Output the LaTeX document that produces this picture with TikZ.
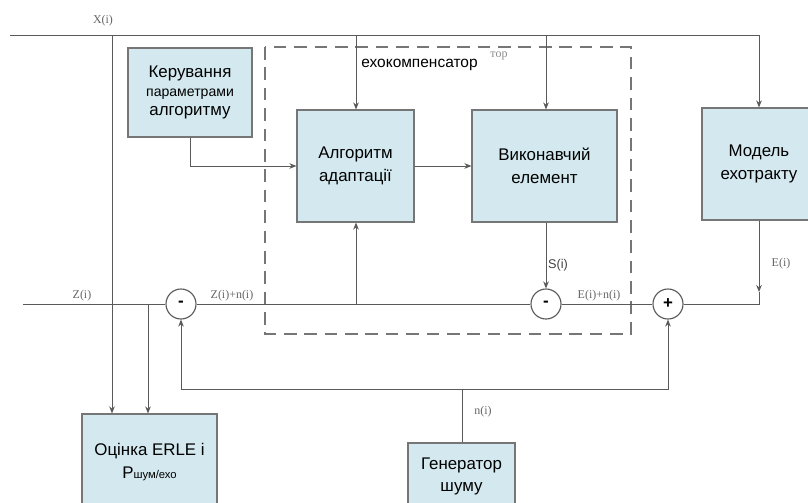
\documentclass[tikz,border=0pt]{standalone}
\usepackage{fontspec}
\setmainfont{Liberation Sans}
\newfontfamily\lblfont{Liberation Serif}
\definecolor{boxfill}{HTML}{D3E9EF}
\definecolor{boxline}{HTML}{767676}
\definecolor{wirecol}{HTML}{5A5A5A}
\usetikzlibrary{arrows.meta,positioning}

\begin{document}
\begin{tikzpicture}[x=0.025cm, y=-0.025cm,
  box/.style={rectangle, draw=boxline, fill=boxfill, line width=0.8pt,
    align=center, inner sep=1pt, font=\fontsize{12}{16}\selectfont},
  sum/.style={circle, draw=wirecol, line width=0.8pt, minimum size=0.75cm,
    inner sep=0pt, font=\bfseries\fontsize{12}{12}\selectfont},
  arr/.style={-{Stealth[length=5pt,width=4pt]}, draw=wirecol, line width=0.7pt},
  link/.style={draw=wirecol, line width=0.7pt},
  lbl/.style={text=black!60, font=\lblfont\fontsize{8.5}{9}\selectfont, inner sep=1pt}
]
  \useasboundingbox[fill=white] (0,0) rectangle (808,502);

  \draw[boxline, line width=1.1pt, dash pattern=on 9pt off 5.5pt] (265,47) rectangle (631,334);

  \node[box, minimum width=3.1cm, minimum height=2.225cm,
    font=\fontsize{12}{13.5}\selectfont] (ctrl) at (190,92.5)
    {Керування\\{\fontsize{10}{12}\selectfont параметрами}\\алгоритму};
  \node[box, minimum width=2.925cm, minimum height=2.8cm] (algo) at (355.5,166) {Алгоритм\\адаптації};
  \node[box, minimum width=3.625cm, minimum height=2.8cm] (exec) at (544.5,166) {Виконавчий\\елемент};
  \node[box, minimum width=2.85cm, minimum height=2.8cm] (model) at (759,164) {Модель\\ехотракту};
  \node[box, minimum width=3.375cm, minimum height=2.4cm, font=\fontsize{12}{17}\selectfont]
    (est) at (149.5,462) {Оцінка ERLE і\\P{\fontsize{8}{8}\selectfont шум/ехо}};
  \node[box, minimum width=2.675cm, minimum height=1.675cm] (gen) at (461.5,476.5) {Генератор\\шуму};

  \node[fill=white, inner sep=2pt, font=\fontsize{11}{12}\selectfont] (comp) at (419.5,65) {ехокомпенсатор};
  \node[text=black!45, font=\lblfont\fontsize{8.5}{9}\selectfont] (ghost) at (499,56) {тор};

  \node[sum] (minus1) at (181,304) {-};
  \node[sum] (minus2) at (546,304) {-};
  \node[sum] (plus) at (668,304) {+};

  \coordinate (xin) at (10,35);
  \coordinate (xa) at (112,35);
  \coordinate (xb) at (356,35);
  \coordinate (xc) at (546,35);
  \coordinate (xr) at (759,35);
  \coordinate (zin) at (23,304);
  \coordinate (zb) at (148,304);
  \coordinate (za) at (356,304);
  \coordinate (fb) at (462,389);
  \coordinate (emid) at (759,292);

  \draw[link] (xin) -- (xr);
  \draw[arr] (xr) -- (model.north);
  \draw[arr] (xa) -- (xa |- est.north);
  \draw[arr] (xb) -- (xb |- algo.north);
  \draw[arr] (xc) -- (xc |- exec.north);

  \draw[arr] (ctrl.south) |- (algo.west);
  \draw[arr] (algo) -- (exec);
  \draw[arr] (exec.south -| minus2) -- (minus2.north);

  \draw[arr] (model.south -| emid) -- (emid);
  \draw[link] (emid) |- (plus.east);

  \draw[link] (zin) -- (minus1.west);
  \draw[link] (minus1.east) -- (minus2.west);
  \draw[link] (minus2.east) -- (plus.west);
  \draw[arr] (zb) -- (zb |- est.north);
  \draw[arr] (za) -- (za |- algo.south);

  \draw[link] (gen.north -| fb) -- (fb);
  \draw[arr] (fb) -| (minus1.south);
  \draw[arr] (fb) -| (plus.south);

  \node[lbl] (lx) at (103,21) {X(i)};
  \node[lbl, anchor=south] (lz) at (82,303) {Z(i)};
  \node[lbl, anchor=south] (lzn) at (232,303) {Z(i)+n(i)};
  \node[lbl, anchor=south] (len) at (599,303) {E(i)+n(i)};
  \node[lbl, text=black!75, font=\fontsize{9}{9}\selectfont] (ls) at (558,265) {S(i)};
  \node[lbl] (le) at (781,264) {E(i)};
  \node[lbl] (ln) at (483,412) {n(i)};
\end{tikzpicture}
\end{document}
